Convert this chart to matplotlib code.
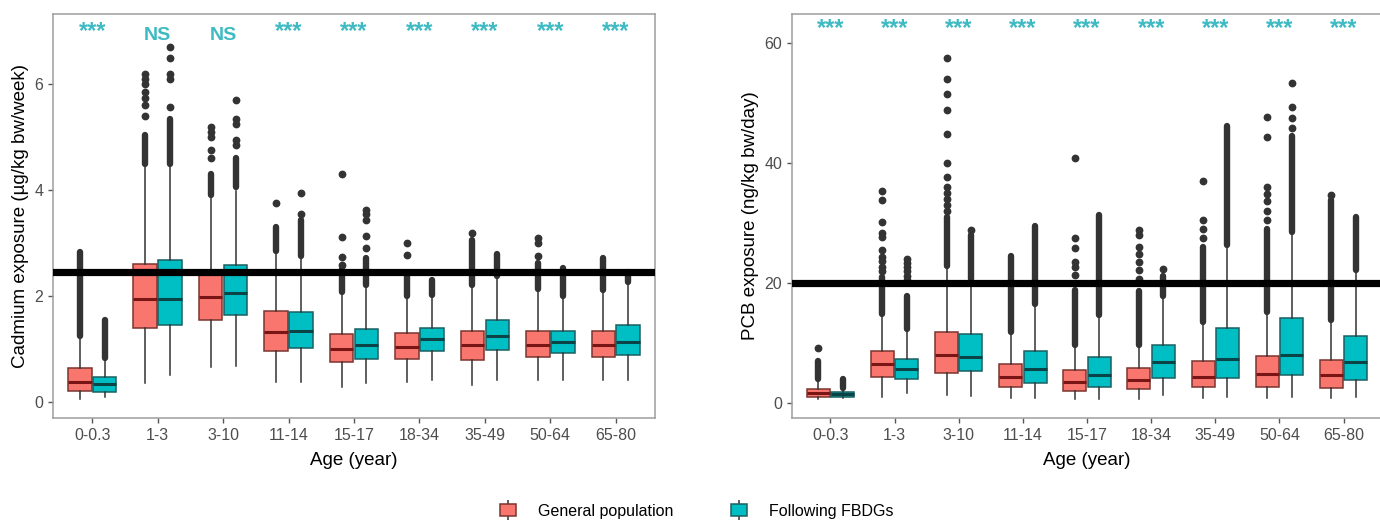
import matplotlib
matplotlib.use('Agg')
import matplotlib.pyplot as plt
from matplotlib.patches import Patch
from matplotlib.lines import Line2D
from matplotlib.legend_handler import HandlerTuple

plt.rcParams['font.family'] = ['Liberation Sans', 'DejaVu Sans']

ages = ['0-0.3', '1-3', '3-10', '11-14', '15-17', '18-34', '35-49', '50-64', '65-80']
groups = ['General population', 'Following FBDGs']

# cadmium, general population
cd_gen_med = [0.38, 1.94, 1.97, 1.31, 0.99, 1.04, 1.07, 1.07, 1.07]
cd_gen_q1 = [0.21, 1.39, 1.54, 0.96, 0.74, 0.81, 0.79, 0.84, 0.84]
cd_gen_q3 = [0.64, 2.61, 2.43, 1.72, 1.27, 1.30, 1.34, 1.34, 1.34]
cd_gen_lo = [0.04, 0.35, 0.66, 0.38, 0.28, 0.38, 0.32, 0.41, 0.41]
cd_gen_hi = [1.20, 4.44, 3.85, 2.80, 2.05, 1.98, 2.17, 2.11, 2.08]
cd_gen_band = [(1.24, 2.83), (4.5, 5.05), (3.9, 4.3), (2.85, 3.3), (2.07, 2.5),
               (2.0, 2.43), (2.2, 3.05), (2.13, 2.62), (2.11, 2.71)]
cd_gen_out = [[], [5.4, 5.6, 5.75, 5.85, 6.0, 6.1, 6.2], [4.6, 4.75, 5.0, 5.1, 5.2],
              [3.75], [2.58, 2.74, 3.11, 4.3], [2.78, 2.99], [3.18], [2.75, 3.0, 3.1], []]

# cadmium, following FBDGs
cd_fb_med = [0.33, 1.94, 2.05, 1.34, 1.07, 1.18, 1.24, 1.13, 1.13]
cd_fb_q1 = [0.18, 1.44, 1.63, 1.01, 0.81, 0.95, 0.98, 0.91, 0.88]
cd_fb_q3 = [0.46, 2.67, 2.58, 1.70, 1.37, 1.40, 1.54, 1.34, 1.45]
cd_fb_lo = [0.08, 0.50, 0.68, 0.38, 0.35, 0.41, 0.41, 0.41, 0.41]
cd_fb_hi = [0.80, 4.44, 3.98, 2.72, 2.17, 2.00, 2.36, 1.98, 2.24]
cd_fb_band = [(0.83, 1.55), (4.5, 5.35), (4.05, 4.6), (2.76, 3.43), (2.2, 2.72),
              (2.02, 2.3), (2.38, 2.8), (2.0, 2.53), (2.26, 2.46)]
cd_fb_out = [[], [5.58, 6.1, 6.2, 6.5, 6.7], [4.85, 4.95, 5.25, 5.35, 5.7], [3.55, 3.95],
             [2.9, 3.14, 3.43, 3.54, 3.63], [], [], [], []]

# PCB, general population
pcb_gen_med = [1.67, 6.4, 7.96, 4.23, 3.5, 3.78, 4.34, 4.79, 4.62]
pcb_gen_q1 = [1.0, 4.34, 4.9, 2.67, 2.0, 2.23, 2.67, 2.67, 2.39]
pcb_gen_q3 = [2.28, 8.68, 11.74, 6.4, 5.45, 5.84, 6.96, 7.79, 7.12]
pcb_gen_lo = [0.6, 1.0, 1.28, 0.83, 0.6, 0.6, 0.83, 0.83, 0.83]
pcb_gen_hi = [3.8, 14.6, 22.7, 11.6, 9.35, 9.35, 13.2, 14.9, 13.5]
pcb_gen_band = [(3.9, 7.0), (14.8, 21.0), (22.9, 31.0), (11.8, 24.5), (9.6, 18.8),
                (9.6, 18.6), (13.4, 26.0), (15.2, 29.0), (13.8, 33.8)]
pcb_gen_out = [[9.1], [22.0, 22.7, 23.6, 24.4, 25.5, 27.7, 28.3, 30.2, 33.8, 35.4],
               [32, 33, 34, 35, 36, 37.7, 40, 44.8, 48.9, 51.5, 54.1, 57.6], [],
               [21.3, 22.7, 23.5, 25.9, 27.5, 40.8], [20.6, 22.1, 23.5, 24.9, 26.0, 28.0, 28.8],
               [27.5, 29.0, 30.5, 37.0], [30.5, 32.0, 33.6, 34.9, 36.1, 44.4, 47.7], [34.7]]

# PCB, following FBDGs
pcb_fb_med = [1.45, 5.56, 7.68, 5.56, 4.62, 6.84, 7.29, 7.96, 6.84]
pcb_fb_q1 = [1.0, 3.95, 5.34, 3.23, 2.56, 4.17, 4.17, 4.62, 3.78]
pcb_fb_q3 = [1.84, 7.29, 11.4, 8.68, 7.68, 9.63, 12.5, 14.1, 11.2]
pcb_fb_lo = [0.72, 1.56, 1.1, 0.83, 0.6, 1.28, 1.0, 1.0, 1.0]
pcb_fb_hi = [2.4, 12.1, 20.5, 16.3, 14.4, 17.7, 26.0, 28.0, 21.9]
pcb_fb_band = [(2.5, 4.0), (12.3, 17.8), (20.7, 28.0), (16.5, 29.5), (14.6, 31.3),
               (17.9, 21.2), (26.3, 46.2), (28.5, 44.5), (22.1, 31.0)]
pcb_fb_out = [[], [20.5, 21.2, 22.0, 22.7, 23.4, 24.0], [28.9], [], [], [22.3], [],
              [45.8, 47.6, 49.3, 53.3], []]

cd_sig = ['***', 'NS', 'NS', '***', '***', '***', '***', '***', '***']
pcb_sig = ['***'] * 9
cd_limit = 2.46
pcb_limit = 20

RED = '#F8766D'
TEAL = '#00BFC4'
PT = '#333333'


def draw_group(ax, offset, fc, ec, medc, med, q1, q3, lo, hi, band, out):
    stats = []
    for i in range(len(ages)):
        stats.append(dict(med=med[i], q1=q1[i], q3=q3[i], whislo=lo[i], whishi=hi[i],
                          fliers=out[i]))
    pos = [i + offset for i in range(len(ages))]
    ax.bxp(stats, positions=pos, widths=0.36, patch_artist=True, showcaps=False,
           boxprops=dict(facecolor=fc, edgecolor=ec, linewidth=1.1),
           medianprops=dict(color=medc, linewidth=2.2),
           whiskerprops=dict(color=PT, linewidth=1.1),
           flierprops=dict(marker='o', markerfacecolor=PT, markeredgecolor=PT,
                           markersize=4.6, linestyle='none'))
    # dense runs of outliers overlap into a solid column
    for p, (a, b) in zip(pos, band):
        ax.plot([p, p], [a, b], color=PT, lw=4.6, solid_capstyle='round', zorder=3)


def style(ax, ylim, yticks, ylabel, sig, sig_y, limit):
    ax.axhline(limit, color='black', lw=5.2, zorder=5)
    ax.set_xlim(-0.6, 8.6)
    ax.set_ylim(*ylim)
    ax.set_xticks(range(len(ages)))
    ax.set_xticklabels(ages)
    ax.set_yticks(yticks)
    ax.tick_params(colors='#4D4D4D', labelsize=11.5, length=3.5, width=1, color='#555555')
    for s in ax.spines.values():
        s.set_color('#9E9E9E')
        s.set_linewidth(1.1)
    ax.set_xlabel('Age (year)', fontsize=13.5, labelpad=7)
    ax.set_ylabel(ylabel, fontsize=13.5, labelpad=4)
    for i, t in enumerate(sig):
        if t == 'NS':
            ax.text(i, sig_y * 0.99, t, color='#3DBAC2', fontsize=14, fontweight='bold',
                    ha='center', va='center')
        else:
            ax.text(i, sig_y, t, color='#3DBAC2', fontsize=17, fontweight='bold',
                    ha='center', va='center')


fig = plt.figure(figsize=(13.8, 5.24), dpi=100)
ax1 = fig.add_axes([53 / 1380, 1 - 418 / 524, 602 / 1380, 404 / 524])
ax2 = fig.add_axes([792 / 1380, 1 - 418 / 524, 590 / 1380, 404 / 524])

draw_group(ax1, -0.19, RED, '#7a3530', '#7a1515', cd_gen_med, cd_gen_q1, cd_gen_q3,
           cd_gen_lo, cd_gen_hi, cd_gen_band, cd_gen_out)
draw_group(ax1, 0.19, TEAL, '#1b5f61', '#0b4446', cd_fb_med, cd_fb_q1, cd_fb_q3,
           cd_fb_lo, cd_fb_hi, cd_fb_band, cd_fb_out)
style(ax1, (-0.31, 7.33), [0, 2, 4, 6], 'Cadmium exposure (µg/kg bw/week)', cd_sig, 7.0,
      cd_limit)

draw_group(ax2, -0.19, RED, '#7a3530', '#7a1515', pcb_gen_med, pcb_gen_q1, pcb_gen_q3,
           pcb_gen_lo, pcb_gen_hi, pcb_gen_band, pcb_gen_out)
draw_group(ax2, 0.19, TEAL, '#1b5f61', '#0b4446', pcb_fb_med, pcb_fb_q1, pcb_fb_q3,
           pcb_fb_lo, pcb_fb_hi, pcb_fb_band, pcb_fb_out)
style(ax2, (-2.55, 64.9), [0, 20, 40, 60], 'PCB exposure (ng/kg bw/day)', pcb_sig, 62.5,
      pcb_limit)

handles = []
for fc, ec in [(RED, '#7a3530'), (TEAL, '#1b5f61')]:
    whisk = Line2D([], [], marker='|', markersize=15, markeredgewidth=1.1, color=PT,
                   linestyle='none')
    box = Patch(facecolor=fc, edgecolor=ec, linewidth=1.1)
    handles.append((whisk, box))
fig.legend(handles, groups, handler_map={tuple: HandlerTuple(ndivide=1, pad=0)},
           loc='center', bbox_to_anchor=(0.505, 0.024), ncol=2, frameon=False,
           fontsize=11.5, handlelength=1.0, handleheight=0.8, columnspacing=3.6,
           handletextpad=1.4)

fig.savefig('out.png', dpi=100)
